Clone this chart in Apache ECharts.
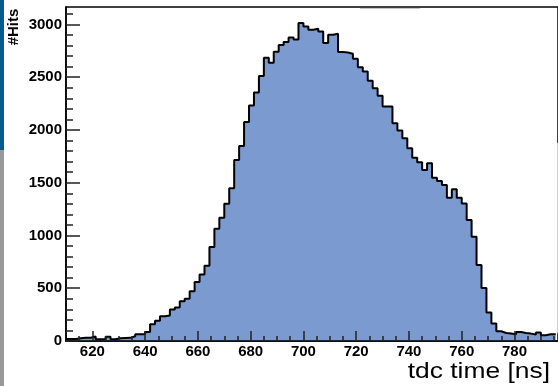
<!DOCTYPE html>
<html><head><meta charset="utf-8">
<script src="https://cdn.jsdelivr.net/npm/echarts@6/dist/echarts.min.js"></script>
<style>html,body{margin:0;padding:0;background:#fff;}#c{width:558px;height:386px;}</style>
</head><body><div id="c"></div>
<script>
// Histogram definition
const binStart = 610;      // ns, low edge of first bin
const binWidth = 1.875;    // ns
const counts = [
  20, 20, 25, 30, 30, 42, 16, 18, 40, 16,
  26, 28, 30, 45, 64, 64, 85, 158, 193, 234,
  241, 298, 317, 377, 400, 472, 560, 630, 712, 890,
  1063, 1168, 1301, 1447, 1716, 1848, 2076, 2231, 2355, 2510,
  2684, 2637, 2741, 2804, 2833, 2877, 2858, 3013, 2981, 2950,
  2959, 2934, 2823, 2902, 2912, 2738, 2734, 2722, 2674, 2595,
  2554, 2466, 2396, 2323, 2222, 2222, 2064, 1994, 1922, 1827,
  1737, 1694, 1621, 1684, 1548, 1516, 1478, 1358, 1437, 1358,
  1304, 1146, 987, 719, 503, 270, 165, 92, 76, 70,
  64, 85, 76, 70, 61, 80, 54, 64, 64
];
const xTickLabels = [620, 640, 660, 680, 700, 720, 740, 760, 780];
const yTickLabels = [0, 500, 1000, 1500, 2000, 2500, 3000];
const xTitle = 'tdc time [ns]';
const yTitle = '#Hits';

const xMin = 610, xMax = 796.5, yMin = 0, yMax = 3165;

const xMinor = [];
for (let v = 615; v < xMax; v += 5) xMinor.push(v);
const yMinor = [];
for (let v = 0; v <= 3100; v += 100) yMinor.push(v);

const histPoints = counts.map((c, i) => [binStart + i * binWidth, c]);
histPoints.push([binStart + counts.length * binWidth, counts[counts.length - 1]]);

const labelFont = { fontFamily: 'Liberation Sans', fontWeight: 'bold', fontSize: 15, color: '#000' };

const chart = echarts.init(document.getElementById('c'), null, { renderer: 'canvas' });
chart.setOption({
  animation: false,
  backgroundColor: '#fff',
  grid: { left: 66, right: -5, top: 7, bottom: 45, show: true, borderColor: '#000', borderWidth: 1.5, backgroundColor: 'transparent' },
  xAxis: [
    { type: 'value', min: xMin, max: xMax, position: 'bottom', z: 5,
      axisLine: { show: true, onZero: false, lineStyle: { color: '#000', width: 1.5 } },
      axisTick: { show: true, inside: true, length: 10, customValues: xTickLabels, lineStyle: { color: '#222', width: 1.5 } },
      axisLabel: Object.assign({ show: true, customValues: xTickLabels, margin: 3, formatter: v => String(v) }, labelFont),
      splitLine: { show: false } },
    { type: 'value', min: xMin, max: xMax, position: 'bottom', z: 5,
      axisLine: { show: false },
      axisTick: { show: true, inside: true, length: 5, customValues: xMinor, lineStyle: { color: '#222', width: 1.5 } },
      axisLabel: { show: false },
      splitLine: { show: false } }
  ],
  yAxis: [
    { type: 'value', min: yMin, max: yMax, position: 'left', z: 5,
      axisLine: { show: true, onZero: false, lineStyle: { color: '#000', width: 1.5 } },
      axisTick: { show: true, inside: true, length: 14, customValues: yTickLabels, lineStyle: { color: '#222', width: 1.5 } },
      axisLabel: Object.assign({ show: true, customValues: yTickLabels, margin: 4, formatter: v => String(v) }, labelFont),
      splitLine: { show: false } },
    { type: 'value', min: yMin, max: yMax, position: 'left', offset: 0, z: 5,
      axisLine: { show: false },
      axisTick: { show: true, inside: true, length: 7, customValues: yMinor, lineStyle: { color: '#222', width: 1.5 } },
      axisLabel: { show: false },
      splitLine: { show: false } }
  ],
  series: [{
    type: 'line', xAxisIndex: 0, yAxisIndex: 0, step: 'end', symbol: 'none',
    data: histPoints,
    lineStyle: { color: '#000', width: 2 },
    areaStyle: { color: '#7a9ad0', opacity: 1 },
    z: 2
  }],
  graphic: [
    { type: 'rect', shape: { x: 0, y: 0, width: 4, height: 150 }, style: { fill: '#065a8c' }, silent: true },
    { type: 'rect', shape: { x: 0, y: 150, width: 4, height: 236 }, style: { fill: '#9a9a9a' }, silent: true },
    { type: 'line', shape: { x1: 360, y1: 8.5, x2: 420, y2: 8.5 }, style: { stroke: '#c8c8c8', lineWidth: 1 }, silent: true },
    { type: 'line', shape: { x1: 557.5, y1: 143, x2: 557.5, y2: 333 }, style: { stroke: '#d0d0d0', lineWidth: 1 }, silent: true },
    { type: 'text', x: 14, y: 27, rotation: Math.PI / 2,
      style: { text: yTitle, font: 'bold 15px "Liberation Sans"', fill: '#000', textAlign: 'center', textVerticalAlign: 'middle' } },
    { type: 'text', x: 550, y: 383, scaleX: 1.2,
      style: { text: xTitle, font: '22px "Liberation Sans"', fill: '#000', textAlign: 'right', textVerticalAlign: 'bottom' } }
  ]
});
</script></body></html>
